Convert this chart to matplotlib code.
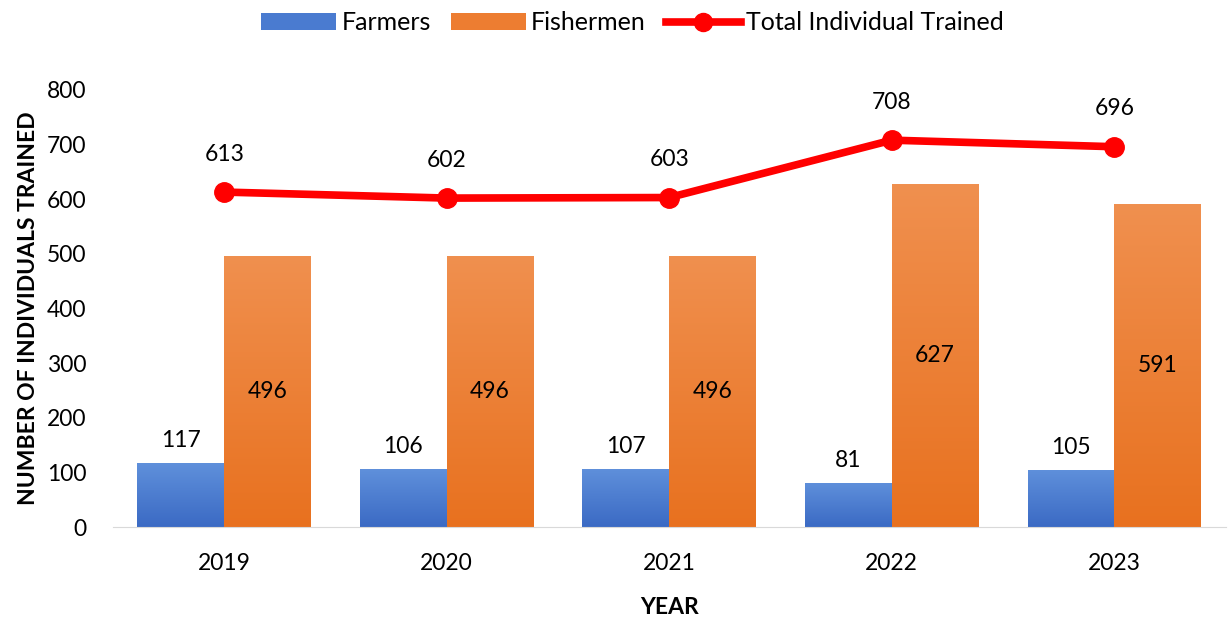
import matplotlib
matplotlib.use("Agg")
import matplotlib.pyplot as plt
import numpy as np
from matplotlib.colors import LinearSegmentedColormap
from matplotlib.lines import Line2D
from matplotlib.patches import Patch

plt.rcParams["font.family"] = ["Lato", "DejaVu Sans"]

years = ["2019", "2020", "2021", "2022", "2023"]
farmers = [117, 106, 107, 81, 105]
fishermen = [496, 496, 496, 627, 591]
total = [613, 602, 603, 708, 696]

BLUE_TOP, BLUE_BOT = "#5F90DB", "#3B6AC4"
ORANGE_TOP, ORANGE_BOT = "#F0904F", "#E8711F"
W = 0.39
FS = 16.5


def gradient_bars(ax, bars, top, bottom):
    cmap = LinearSegmentedColormap.from_list("g", [bottom, top])
    grad = np.linspace(0, 1, 256).reshape(-1, 1)
    for b in bars:
        x0, y0 = b.get_x(), b.get_y()
        x1, y1 = x0 + b.get_width(), y0 + b.get_height()
        im = ax.imshow(grad, cmap=cmap, origin="lower", aspect="auto",
                       extent=(x0, x1, y0, y1), zorder=2)
        im.set_clip_path(b)


fig = plt.figure(figsize=(12.28, 6.2), dpi=100)
ax = fig.add_axes([0.092, 0.15, 0.906, 0.705])
x = np.arange(len(years))

b1 = ax.bar(x - W / 2, farmers, W, color="none", edgecolor="none")
b2 = ax.bar(x + W / 2, fishermen, W, color="none", edgecolor="none")
gradient_bars(ax, b1, BLUE_TOP, BLUE_BOT)
gradient_bars(ax, b2, ORANGE_TOP, ORANGE_BOT)

ax.plot(x, total, color="#FF0000", lw=5.5, marker="o", ms=14, zorder=4)

for xi, v in zip(x, farmers):
    ax.text(xi - W / 2, v + 22, str(v), ha="center", va="bottom", fontsize=FS, zorder=5)
for xi, v in zip(x, fishermen):
    ax.text(xi + W / 2, v / 2, str(v), ha="center", va="center", fontsize=FS, zorder=5)
for xi, v in zip(x, total):
    ax.text(xi, v + 50, str(v), ha="center", va="bottom", fontsize=FS, zorder=5)

ax.set_xlim(-0.5, 4.5)
ax.set_ylim(0, 800)
ax.set_yticks(range(0, 801, 100))
ax.set_xticks(x, years)
ax.tick_params(length=0, labelsize=FS)
ax.tick_params(axis="x", pad=19)
ax.tick_params(axis="y", pad=19)
for s in ["top", "right", "left"]:
    ax.spines[s].set_visible(False)
ax.spines["bottom"].set_color("#D9D9D9")
ax.set_xlabel("YEAR", fontsize=FS, fontweight="bold", labelpad=16)
ax.set_ylabel("NUMBER OF INDIVIDUALS TRAINED", fontsize=FS, fontweight="bold", labelpad=6)

handles = [
    Patch(facecolor="#4A7BD0", label="Farmers"),
    Patch(facecolor="#ED7D31", label="Fishermen"),
    Line2D([0], [0], color="#FF0000", lw=5.5, marker="o", ms=13, label="Total Individual Trained"),
]
fig.legend(handles=handles, loc="upper center", bbox_to_anchor=(0.515, 1.018), ncol=3,
           frameon=False, fontsize=18, handlelength=3.0, handleheight=0.7,
           columnspacing=0.8, handletextpad=0.2)

fig.savefig("out.png", dpi=100)
